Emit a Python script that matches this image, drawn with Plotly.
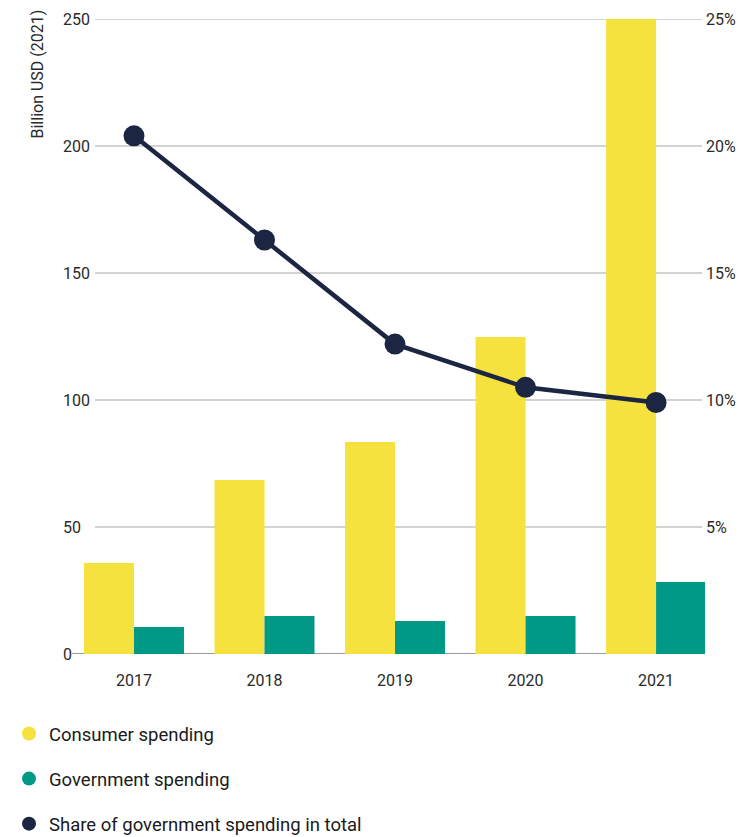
import plotly.graph_objects as go

years = ["2017", "2018", "2019", "2020", "2021"]
consumer = [35.8, 68.5, 83.5, 124.8, 250]
government = [10.6, 15.0, 13.0, 15.0, 28.3]
share_pct = [20.4, 16.3, 12.2, 10.5, 9.9]
left_ticks = [0, 50, 100, 150, 200, 250]
left_ticktext = ["0\u2007\u2007", "50\u2007", "100", "150", "200", "250"]
right_ticks = [5, 10, 15, 20, 25]
right_ticktext = ["5%", "10%", "15%", "20%", "25%"]

YELLOW = "#F5E23F"
GREEN = "#009985"
NAVY = "#1C2541"
FONT = "Roboto"

fig = go.Figure()
fig.add_trace(go.Bar(x=years, y=consumer, marker=dict(color=YELLOW, line=dict(width=0)),
                     showlegend=False, name="Consumer spending"))
fig.add_trace(go.Bar(x=years, y=government, marker=dict(color=GREEN, line=dict(width=0)),
                     showlegend=False, name="Government spending"))
fig.add_trace(go.Scatter(x=years, y=share_pct, yaxis="y2", mode="lines+markers",
                         line=dict(color=NAVY, width=4.5),
                         marker=dict(color=NAVY, size=21),
                         showlegend=False, name="Share of government spending in total"))

# legend entries (circle markers)
for nm, col, grp in [("Consumer spending", YELLOW, "a"),
                     ("Government spending", GREEN, "b"),
                     ("Share of government spending in total", NAVY, "c")]:
    fig.add_trace(go.Scatter(x=[None], y=[None], mode="markers", name=nm, legendgroup=grp,
                             marker=dict(color=col, size=14)))

OFF = 8  # page body margin offset
# target screen positions
L_s, R_s, T_s, B_s = 60, 705, 19, 654
L, R, T, B = L_s - OFF, R_s - OFF, T_s - OFF, B_s - OFF
W = R - L
H = B - T


def px(x_screen):
    return (x_screen - L_s) / W


def py(y_screen):
    return (B_s - y_screen) / H


shapes = []
for v in left_ticks[1:]:
    shapes.append(dict(type="line", xref="paper", yref="y", x0=px(95), x1=px(702),
                       y0=v, y1=v, line=dict(color="#c4c4c4", width=1.5), layer="below"))
shapes.append(dict(type="line", xref="paper", yref="y", x0=px(72), x1=1,
                   y0=0, y1=0, line=dict(color="#9a9a9a", width=2), layer="below"))

fig.update_layout(
    width=754, height=837,
    margin=dict(l=L, r=754 - R, t=T, b=837 - B, autoexpand=False),
    plot_bgcolor="white", paper_bgcolor="white",
    font=dict(family=FONT, color="#2a2a2a"),
    barmode="group", bargap=0.234, bargroupgap=0,
    shapes=shapes,
    xaxis=dict(type="category", domain=[px(84), 1], range=[-0.383, 4.375],
               showgrid=False, showline=False,
               zeroline=False, ticks="outside", ticklen=12, tickcolor="rgba(0,0,0,0)",
               tickfont=dict(size=16, color="#2a2a2a", family=FONT)),
    yaxis=dict(range=[0, 250], tickvals=left_ticks, ticktext=left_ticktext,
               anchor="free", position=px(90),
               showgrid=False, zeroline=False, showline=False,
               tickfont=dict(size=16, color="#2a2a2a", family=FONT)),
    yaxis2=dict(range=[0, 25], overlaying="y", side="right", anchor="x", tickvals=right_ticks,
                ticktext=right_ticktext, showgrid=False, zeroline=False, showline=False,
                tickfont=dict(size=16, color="#2a2a2a", family=FONT)),
    legend=dict(x=px(9), xanchor="left", y=py(715), yanchor="top",
                orientation="v", tracegroupgap=18,
                font=dict(size=18.5, color="#1a1a1a", family=FONT),
                bgcolor="rgba(0,0,0,0)"),
    annotations=[dict(text="Billion USD (2021)", textangle=-90, xref="paper", yref="paper",
                      x=px(37), xanchor="center", y=py(8), yanchor="top",
                      showarrow=False, font=dict(size=16, color="#2a2a2a", family=FONT))],
)

fig.write_html("out.html")
